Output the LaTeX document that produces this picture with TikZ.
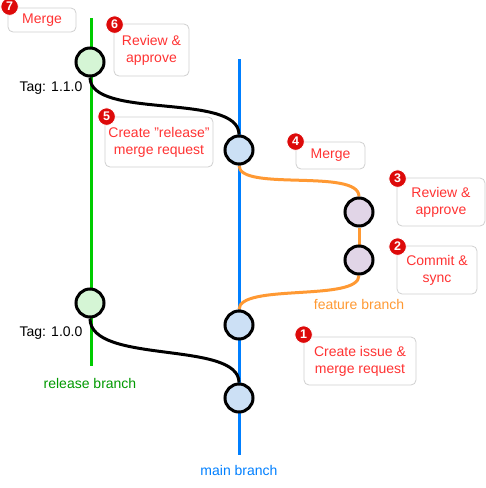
\documentclass[tikz,border=0pt]{standalone}
\usepackage{fontspec}
\setmainfont{Liberation Sans}
\usetikzlibrary{backgrounds}
\definecolor{relgreen}{HTML}{00CC00}
\definecolor{reltext}{HTML}{009900}
\definecolor{mainblue}{HTML}{007FFF}
\definecolor{featorange}{HTML}{FF9933}
\definecolor{redtext}{HTML}{FF3333}
\definecolor{badgered}{HTML}{DD0A0A}
\definecolor{boxgray}{HTML}{D0D0D0}
\definecolor{gfill}{HTML}{D5F5D5}
\definecolor{bfill}{HTML}{CCE0F5}
\definecolor{pfill}{HTML}{E1D5E7}
\tikzset{
  commit/.style={circle, draw=black, line width=3pt, minimum size=28pt, inner sep=0pt},
  stepnote/.style={draw=boxgray, line width=0.8pt, rounded corners=5pt, fill=white, text=redtext, align=center, inner sep=0pt, font=\fontsize{14}{17}\selectfont},
  badge/.style={circle, fill=badgered, draw=white, line width=0.8pt, text=white, font=\fontsize{12.5}{12.5}\selectfont\bfseries, minimum size=17.5pt, inner sep=0pt},
  lbl/.style={font=\fontsize{14}{17}\selectfont, inner sep=0pt},
  branch/.style={line width=3pt},
  merge/.style={line width=3pt, black},
}
\begin{document}
\begin{tikzpicture}[x=1pt,y=-1pt]
\useasboundingbox (0,0) rectangle (486,488);
% commits
\node[commit, fill=gfill] (g2) at (90,62) {};
\node[commit, fill=gfill] (g1) at (90,303) {};
\node[commit, fill=bfill] (m3) at (239,150) {};
\node[commit, fill=bfill] (m2) at (239,325) {};
\node[commit, fill=bfill] (m1) at (239,398) {};
\node[commit, fill=pfill] (f2) at (359,212) {};
\node[commit, fill=pfill] (f1) at (359,260) {};
% branch ends
\coordinate (gtop) at (91,18);
\coordinate (gbot) at (91,366);
\coordinate (mtop) at (239,59);
\coordinate (mbot) at (239,455);
\begin{scope}[on background layer]
\draw[branch, relgreen] (gtop) -- (gbot);
\draw[branch, mainblue] (mtop) -- (mbot);
\draw[merge] (g2.south) .. controls (90,120) and (239,92) .. (m3.north);
\draw[merge] (g1.south) .. controls (90,365) and (239,340) .. (m1.north);
\draw[branch, featorange] (m3.south) .. controls (239,192) and (359,168) .. (f2.north);
\draw[branch, featorange] (f2.south) -- (f1.north);
\draw[branch, featorange] (f1.south) .. controls (359,302) and (239,283) .. (m2.north);
\end{scope}
% labels
\node[lbl] (tag2) at (51,88) {Tag: 1.1.0};
\node[lbl] (tag1) at (51,333) {Tag: 1.0.0};
\node[lbl, text=reltext] (relname) at (90,383) {release branch};
\node[lbl, text=mainblue] (mainname) at (239,470) {main branch};
\node[lbl, text=featorange] (featname) at (359,304) {feature branch};
% notes
\node[stepnote, minimum width=68pt, minimum height=24pt] (s7) at (42,20) {Merge};
\node[stepnote, minimum width=75pt, minimum height=52pt] (s6) at (151.5,50) {Review \&\\approve};
\node[stepnote, minimum width=108pt, minimum height=50pt] (s5) at (159,142) {Create \symbol{34}release\symbol{34}\\merge request};
\node[stepnote, minimum width=69pt, minimum height=27pt] (s4) at (330.5,155.5) {Merge};
\node[stepnote, minimum width=88pt, minimum height=48pt] (s3) at (441,202) {Review \&\\approve};
\node[stepnote, minimum width=80pt, minimum height=48pt] (s2) at (437,270) {Commit \&\\sync};
\node[stepnote, minimum width=112pt, minimum height=48pt] (s1) at (360,361) {Create issue \&\\merge request};
% badges
\node[badge] (n7) at ([shift={(2,-1)}]s7.north west) {7};
\node[badge] (n6) at ([shift={(1,1)}]s6.north west) {6};
\node[badge] (n5) at ([shift={(2,0)}]s5.north west) {5};
\node[badge] (n4) at ([shift={(0,0)}]s4.north west) {4};
\node[badge] (n3) at ([shift={(1,1)}]s3.north west) {3};
\node[badge] (n2) at ([shift={(1,1)}]s2.north west) {2};
\node[badge] (n1) at ([shift={(0,-2)}]s1.north west) {1};
\end{tikzpicture}
\end{document}
